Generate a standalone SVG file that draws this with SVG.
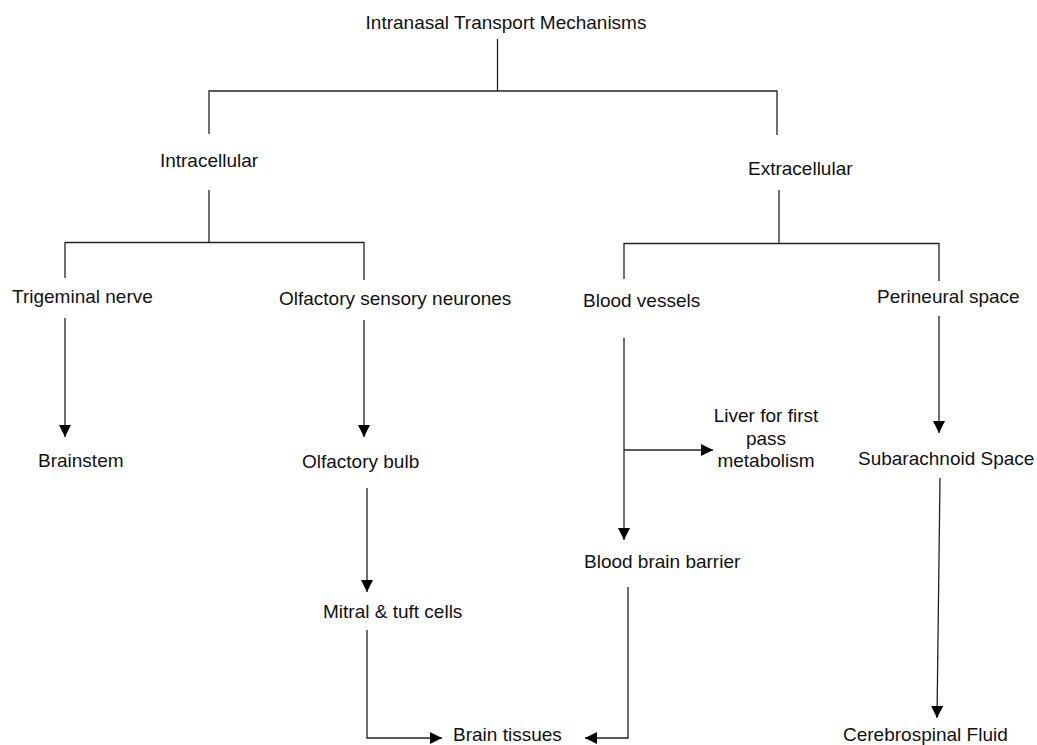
<svg xmlns="http://www.w3.org/2000/svg" width="1037" height="745" viewBox="0 0 1037 745">
<defs>
<marker id="arr" markerUnits="userSpaceOnUse" markerWidth="12" markerHeight="12" refX="12" refY="6" orient="auto">
<path d="M0,0 L12,6 L0,12 Z" fill="#000"/>
</marker>
<style>
text{font-family:"Liberation Sans",Arial,sans-serif;font-size:19px;fill:#111}
.c line,.c path,.c polyline{stroke:#222;stroke-width:1.3;fill:none}
.a{marker-end:url(#arr)}
</style>
</defs>
<rect width="1037" height="745" fill="#fff"/>
<g id="root"><text x="506" y="29" text-anchor="middle">Intranasal Transport Mechanisms</text></g>
<g id="intracellular"><text x="209" y="167" text-anchor="middle">Intracellular</text></g>
<g id="extracellular"><text x="748" y="175">Extracellular</text></g>
<g id="trigeminal"><text x="12" y="303">Trigeminal nerve</text></g>
<g id="olfactory-neurones"><text x="279" y="305">Olfactory sensory neurones</text></g>
<g id="blood-vessels"><text x="583" y="307">Blood vessels</text></g>
<g id="perineural"><text x="877" y="303">Perineural space</text></g>
<g id="brainstem"><text x="38" y="467">Brainstem</text></g>
<g id="olfactory-bulb"><text x="302" y="468">Olfactory bulb</text></g>
<g id="liver"><text x="766" y="422" text-anchor="middle">Liver for first</text><text x="766" y="445" text-anchor="middle">pass</text><text x="766" y="467" text-anchor="middle">metabolism</text></g>
<g id="subarachnoid"><text x="858" y="465">Subarachnoid Space</text></g>
<g id="bbb"><text x="584" y="568">Blood brain barrier</text></g>
<g id="mitral"><text x="323" y="618">Mitral &amp; tuft cells</text></g>
<g id="brain-tissues"><text x="453" y="741">Brain tissues</text></g>
<g id="csf"><text x="843" y="741">Cerebrospinal Fluid</text></g>
<g id="connectors" class="c">
<line x1="497.5" y1="39" x2="497.5" y2="91"/>
<polyline points="209,134 209,91 777,91 777,135"/>
<line x1="209" y1="190" x2="209" y2="242.5"/>
<polyline points="65,278 65,242.5 364,242.5 364,280"/>
<line x1="779" y1="190" x2="779" y2="243.5"/>
<polyline points="624,279 624,243.5 939,243.5 939,281"/>
<line class="a" x1="65" y1="318" x2="65" y2="437"/>
<line class="a" x1="364" y1="320" x2="364" y2="437"/>
<line class="a" x1="367" y1="488" x2="367" y2="592"/>
<polyline class="a" points="367,630 367,738 442,738"/>
<line class="a" x1="624" y1="338" x2="624" y2="540"/>
<line class="a" x1="624" y1="450" x2="713" y2="450"/>
<polyline class="a" points="628,587 628,738 585,738"/>
<line class="a" x1="939" y1="316" x2="939" y2="433"/>
<line class="a" x1="940" y1="478" x2="937" y2="718"/>
</g>
</svg>
